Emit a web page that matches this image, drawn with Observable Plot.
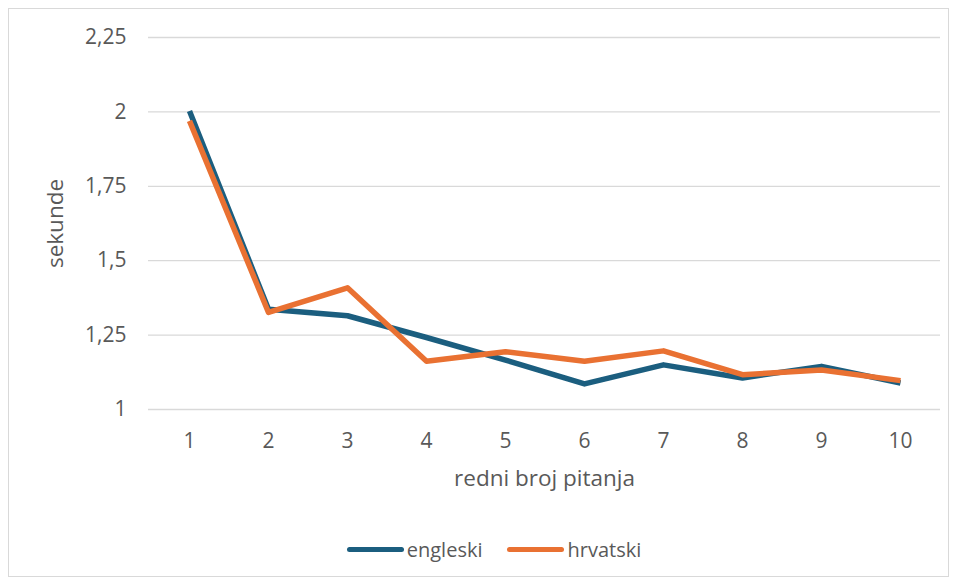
<!DOCTYPE html>
<html>
<head>
<meta charset="utf-8">
<script src="https://cdn.jsdelivr.net/npm/d3@7"></script>
<script src="https://cdn.jsdelivr.net/npm/@observablehq/plot@0.6"></script>
<style>
  html, body { margin: 0; padding: 0; background: #fff; }
  body { width: 958px; height: 586px; position: relative; overflow: hidden; font-family: "Open Sans", sans-serif; }
  #frame { position: absolute; left: 8px; top: 8px; width: 941px; height: 569px; border: 1px solid #d9d9d9; box-sizing: border-box; }
  #chart { position: absolute; left: 0; top: 0; }
  #legend { position: absolute; top: 536px; left: 0; width: 958px; display: flex; justify-content: center; gap: 25px; font-size: 20px; color: #595959; padding-left: 30px; box-sizing: border-box; }
  .item { display: flex; align-items: center; }
  .sw { width: 57px; height: 5px; border-radius: 3px; margin-right: 3px; }
</style>
</head>
<body>
<div id="frame"></div>
<div id="chart"></div>
<div id="legend"></div>
<script>
const categories = ["1","2","3","4","5","6","7","8","9","10"];
const engleski = [2.003, 1.337, 1.315, 1.242, 1.166, 1.086, 1.150, 1.106, 1.145, 1.089];
const hrvatski = [1.970, 1.326, 1.409, 1.162, 1.194, 1.162, 1.197, 1.117, 1.133, 1.097];
const seriesNames = ["engleski", "hrvatski"];
const seriesColors = ["#1b5e7f", "#e97132"];
const yTicks = [1, 1.25, 1.5, 1.75, 2, 2.25];

const data = [];
categories.forEach((c, i) => {
  data.push({q: c, v: engleski[i], s: "engleski"});
  data.push({q: c, v: hrvatski[i], s: "hrvatski"});
});

const fmt = d => String(d).replace(".", ",");

const chart = Plot.plot({
  width: 958,
  height: 494,
  marginLeft: 148,
  marginRight: 18,
  marginTop: 37,
  marginBottom: 85,
  style: {fontFamily: "Open Sans, sans-serif", fontSize: "21px", color: "#595959", background: "transparent"},
  x: {type: "point", domain: categories, padding: 0.5},
  y: {domain: [1, 2.25]},
  color: {domain: seriesNames, range: seriesColors},
  marks: [
    Plot.gridY(yTicks, {stroke: "#d9d9d9", strokeOpacity: 1, strokeWidth: 1.3}),
    Plot.axisY({ticks: yTicks, tickSize: 0, tickPadding: 22, tickFormat: fmt, fill: "#595959", fontSize: 21,
      label: "sekunde", labelAnchor: "center", labelArrow: "none", labelOffset: 101}),
    Plot.axisX({tickSize: 0, tickPadding: 24, fill: "#595959", fontSize: 21,
      label: "redni broj pitanja", labelAnchor: "center", labelArrow: "none", labelOffset: 76}),
    Plot.line(data, {x: "q", y: "v", stroke: "s", z: "s", strokeWidth: 5.5, strokeLinejoin: "round", strokeLinecap: "butt"})
  ]
});
document.getElementById("chart").appendChild(chart);
chart.querySelectorAll("text").forEach(t => { t.setAttribute("font-size", "21"); t.style.fontSize = "21px"; });
chart.querySelectorAll("[aria-label='x-axis label'] text, [aria-label='y-axis label'] text").forEach(t => { t.setAttribute("font-size", "22.5"); t.style.fontSize = "22.5px"; });

const legend = document.getElementById("legend");
seriesNames.forEach((n, i) => {
  const it = document.createElement("div");
  it.className = "item";
  const sw = document.createElement("div");
  sw.className = "sw";
  sw.style.background = seriesColors[i];
  const tx = document.createElement("span");
  tx.textContent = n;
  it.appendChild(sw); it.appendChild(tx);
  legend.appendChild(it);
});
</script>
</body>
</html>
